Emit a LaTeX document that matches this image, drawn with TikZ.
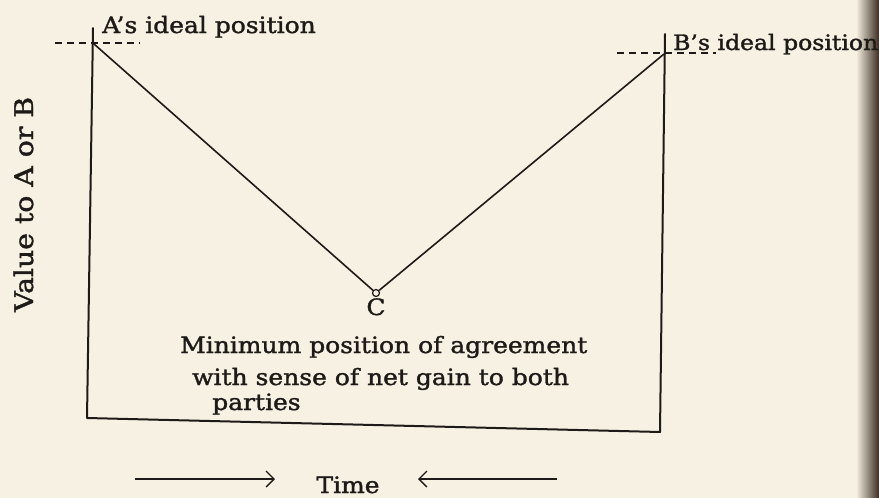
\documentclass[tikz,border=0pt]{standalone}
\usepackage{fontspec}
\setmainfont{DejaVu Serif}[FakeStretch=1.11, FakeBold=1.5]
\usetikzlibrary{arrows.meta}
\definecolor{paper}{HTML}{F6F1E2}
\definecolor{ink}{HTML}{1E1A17}
\definecolor{gutter}{HTML}{3B2C22}
\tikzset{
  lbl/.style={inner sep=0pt, text=ink, font=\fontsize{22.5}{26}\selectfont},
  biglbl/.style={lbl, font=\fontsize{25.5}{29}\selectfont},
  edgelbl/.style={lbl, font=\fontsize{21.2}{25}\selectfont},
  axis/.style={draw=ink, line width=2pt, line cap=round, line join=round},
  vline/.style={draw=ink, line width=1.6pt, line join=round},
  dashline/.style={draw=ink, line width=1.5pt, dash pattern=on 7pt off 5pt},
  timearrow/.style={draw=ink, line width=1.3pt, -{Straight Barb[length=8pt,width=16pt,line width=1.3pt]}}
}
\begin{document}
\begin{tikzpicture}[x=1pt,y=-1pt]
\useasboundingbox (0,0) rectangle (879,498);
\fill[paper] (0,0) rectangle (879,498);
\shade[left color=paper, right color=gutter] (856,0) rectangle (879,498);
% key points
\coordinate (atop) at (93,28);
\coordinate (abot) at (87,418);
\coordinate (btop) at (665,34);
\coordinate (bbot) at (660,432);
\coordinate (apeak) at (94,44);
\coordinate (bpeak) at (664,54);
\coordinate (adl) at (55,43);
\coordinate (adr) at (140,43);
\coordinate (bdl) at (617,53);
\coordinate (bdr) at (716,53);
\node[circle, draw=ink, line width=1.2pt, fill=paper, minimum size=7pt, inner sep=0pt] (c) at (376,293) {};
% axes
\draw[axis] (atop) -- (abot) -- (bbot) -- (btop);
% dashed ideal levels
\draw[dashline] (adl) -- (adr);
\draw[dashline] (bdl) -- (bdr);
% V lines
\draw[vline] (apeak) -- (c);
\draw[vline] (c) -- (bpeak);
% labels
\node[lbl, anchor=base west] (la) at (102,33) {A’s ideal position};
\node[edgelbl, anchor=base west] (lb) at (673,50) {B’s ideal position};
\node[biglbl, anchor=base west, rotate=90] (lv) at (33,312) {Value to A or B};
\node[lbl, anchor=base] (lc) at (376,315) {C};
\node[lbl, anchor=base west] (m1) at (180,353) {Minimum position of agreement};
\node[lbl, anchor=base west] (m2) at (192,385) {with sense of net gain to both};
\node[lbl, anchor=base west] (m3) at (212,410) {parties};
\node[lbl, anchor=base] (time) at (348,493) {Time};
% time arrows
\coordinate (r1) at (135,479);
\coordinate (r2) at (275,479);
\coordinate (l1) at (557,479);
\coordinate (l2) at (418,479);
\draw[timearrow] (r1) -- (r2);
\draw[timearrow] (l1) -- (l2);
\end{tikzpicture}
\end{document}
